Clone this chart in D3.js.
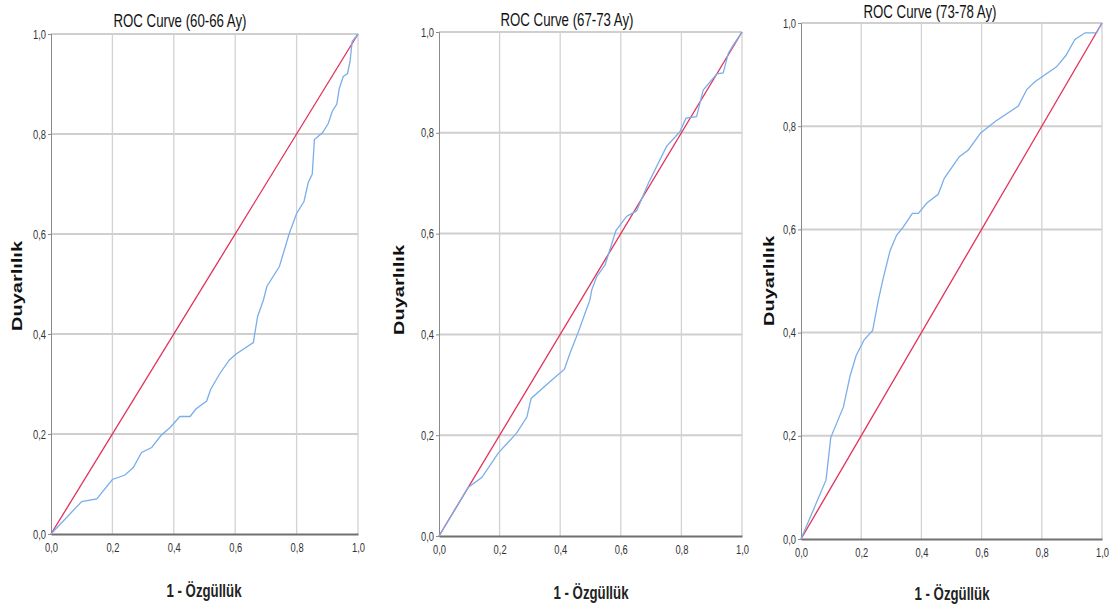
<!DOCTYPE html>
<html>
<head>
<meta charset="utf-8">
<script src="https://cdn.jsdelivr.net/npm/d3@7"></script>
<style>
  body { margin: 0; background: #fff; }
  svg text { font-family: "Liberation Sans", Arial, sans-serif; }
</style>
</head>
<body>
<div id="chart"></div>
<script>
// ROC data (1 - specificity, sensitivity)
var fpr60 = [0, 0.10, 0.149, 0.20, 0.241, 0.268, 0.295, 0.328, 0.358, 0.388, 0.42, 0.453, 0.472, 0.507, 0.52, 0.55, 0.581, 0.603, 0.659, 0.673, 0.692, 0.703, 0.744, 0.776, 0.80, 0.824, 0.838, 0.851, 0.858, 0.885, 0.903, 0.916, 0.931, 0.939, 0.952, 0.966, 0.974, 0.981, 1];
var tpr60 = [0, 0.065, 0.07, 0.109, 0.118, 0.133, 0.163, 0.173, 0.197, 0.213, 0.235, 0.235, 0.25, 0.266, 0.289, 0.321, 0.348, 0.36, 0.383, 0.435, 0.468, 0.495, 0.535, 0.601, 0.641, 0.665, 0.703, 0.72, 0.789, 0.803, 0.821, 0.845, 0.86, 0.891, 0.915, 0.921, 0.945, 0.985, 1];

var fpr67 = [0, 0.097, 0.141, 0.196, 0.256, 0.29, 0.304, 0.366, 0.414, 0.432, 0.46, 0.482, 0.498, 0.504, 0.52, 0.548, 0.562, 0.584, 0.619, 0.652, 0.691, 0.751, 0.795, 0.815, 0.85, 0.872, 0.917, 0.938, 0.955, 0.971, 1];
var tpr67 = [0, 0.097, 0.116, 0.165, 0.204, 0.236, 0.273, 0.306, 0.331, 0.362, 0.405, 0.442, 0.468, 0.488, 0.514, 0.538, 0.564, 0.606, 0.634, 0.645, 0.70, 0.773, 0.802, 0.829, 0.832, 0.885, 0.917, 0.919, 0.958, 0.974, 1];

var fpr73 = [0, 0.083, 0.099, 0.141, 0.163, 0.183, 0.21, 0.238, 0.257, 0.273, 0.296, 0.318, 0.34, 0.37, 0.39, 0.418, 0.456, 0.476, 0.526, 0.556, 0.597, 0.645, 0.722, 0.75, 0.777, 0.849, 0.88, 0.91, 0.944, 0.982, 1];
var tpr73 = [0, 0.114, 0.197, 0.256, 0.316, 0.355, 0.386, 0.404, 0.463, 0.505, 0.559, 0.589, 0.605, 0.631, 0.631, 0.651, 0.668, 0.699, 0.741, 0.754, 0.787, 0.809, 0.839, 0.871, 0.886, 0.915, 0.937, 0.968, 0.981, 0.981, 1];

var titles = ["ROC Curve (60-66 Ay)", "ROC Curve (67-73 Ay)", "ROC Curve (73-78 Ay)"];
var tickVals = [0, 0.2, 0.4, 0.6, 0.8, 1.0];
var yLabel = "Duyarlılık";
var xLabel = "1 - Özgüllük";

var svg = d3.select("#chart")
  .append("svg")
  .attr("width", 1111)
  .attr("height", 610);

var fmt = function(d) { return d3.format(".1f")(d).replace(".", ","); };

///////////////// one ROC panel /////////////////
const renderRoc = (fpr, tpr, title, box) => {
  var x = d3.scaleLinear().domain([0, 1]).range([box.left, box.right]);
  var y = d3.scaleLinear().domain([0, 1]).range([box.bottom, box.top]);
  var g = svg.append("g");

  // horizontal grid
  g.selectAll(".hgrid")
    .data(tickVals.slice(1))
    .enter().append("line")
    .attr("x1", box.left).attr("x2", box.right)
    .attr("y1", d => y(d)).attr("y2", d => y(d))
    .attr("stroke", "#cfcfcf")
    .attr("stroke-width", 2);

  // vertical grid
  g.selectAll(".vgrid")
    .data(tickVals.slice(1))
    .enter().append("line")
    .attr("x1", d => x(d)).attr("x2", d => x(d))
    .attr("y1", box.top).attr("y2", box.bottom)
    .attr("stroke", "#d2d2d2")
    .attr("stroke-width", 1.3);

  // left axis
  var yAxis = g.append("g")
    .attr("transform", "translate(" + box.left + ",0)")
    .call(d3.axisLeft(y).tickValues(tickVals).tickFormat(fmt).tickSize(3).tickPadding(2));
  yAxis.select(".domain").attr("stroke", "#8a8a8a");
  yAxis.selectAll(".tick line").attr("stroke", "#8a8a8a");
  yAxis.selectAll("text").attr("fill", "#333").style("font-size", "13px")
    .attr("textLength", 13).attr("lengthAdjust", "spacingAndGlyphs");

  // bottom axis
  var xAxis = g.append("g")
    .attr("transform", "translate(0," + box.bottom + ")")
    .call(d3.axisBottom(x).tickValues(tickVals).tickFormat(fmt).tickSize(0).tickPadding(9));
  xAxis.select(".domain").attr("stroke", "#707070").attr("stroke-width", 2);
  xAxis.selectAll("text").attr("fill", "#333").style("font-size", "13px")
    .attr("textLength", 13).attr("lengthAdjust", "spacingAndGlyphs");

  // reference diagonal
  g.append("line")
    .attr("x1", x(0)).attr("y1", y(0))
    .attr("x2", x(1)).attr("y2", y(1))
    .attr("stroke", "#e2305a")
    .attr("stroke-width", 1.3);

  // ROC curve
  var line = d3.line().x((d, i) => x(fpr[i])).y(d => y(d));
  g.append("path")
    .datum(tpr)
    .attr("d", line)
    .attr("fill", "none")
    .attr("stroke", "#7aaeea")
    .attr("stroke-width", 1.3);

  g.append("text")
    .attr("x", box.titleX).attr("y", box.titleY)
    .attr("text-anchor", "middle")
    .style("font-size", "19px")
    .attr("textLength", 133).attr("lengthAdjust", "spacingAndGlyphs")
    .attr("fill", "#111")
    .text(title);

  g.append("text")
    .attr("transform", "translate(" + box.yLabX + "," + box.yLabY + ")rotate(-90)")
    .attr("text-anchor", "middle")
    .style("font-weight", "bold")
    .style("font-size", "15.5px")
    .attr("textLength", 90).attr("lengthAdjust", "spacingAndGlyphs")
    .attr("fill", "#111")
    .text(yLabel);

  g.append("text")
    .attr("x", box.xLabX).attr("y", box.xLabY)
    .attr("text-anchor", "middle")
    .style("font-size", "19px")
    .style("font-weight", "bold")
    .attr("textLength", 75).attr("lengthAdjust", "spacingAndGlyphs")
    .attr("fill", "#222")
    .text(xLabel);
};

renderRoc(fpr60, tpr60, titles[0], {left: 51, right: 358, top: 34, bottom: 534, titleX: 180, titleY: 27, yLabX: 22, yLabY: 286, xLabX: 204, xLabY: 597});
renderRoc(fpr67, tpr67, titles[1], {left: 439, right: 742, top: 32, bottom: 536, titleX: 567, titleY: 26, yLabX: 404, yLabY: 290, xLabX: 591, xLabY: 599});
renderRoc(fpr73, tpr73, titles[2], {left: 801, right: 1102, top: 23, bottom: 539, titleX: 930, titleY: 18, yLabX: 774, yLabY: 281, xLabX: 952, xLabY: 600});
</script>
</body>
</html>
